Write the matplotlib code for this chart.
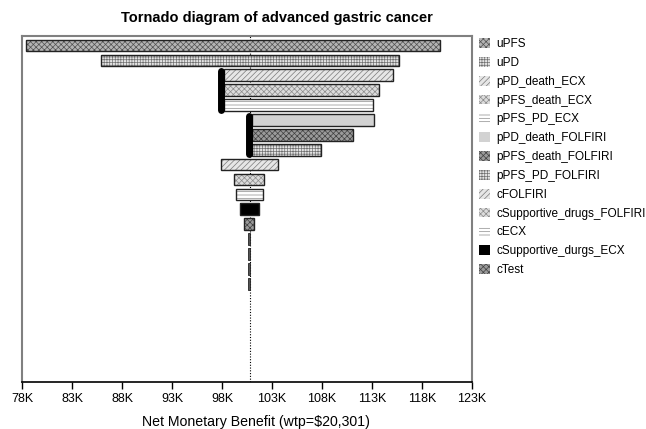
import matplotlib.pyplot as plt
from matplotlib.patches import Patch

plt.rcParams['font.family'] = ['Liberation Sans', 'DejaVu Sans']
plt.rcParams['hatch.linewidth'] = 0.5

# === Data (thousand $) ===
params = ["uPFS", "uPD", "pPD_death_ECX", "pPFS_death_ECX", "pPFS_PD_ECX",
          "pPD_death_FOLFIRI", "pPFS_death_FOLFIRI", "pPFS_PD_FOLFIRI",
          "cFOLFIRI", "cSupportive_drugs_FOLFIRI", "cECX",
          "cSupportive_durgs_ECX", "cTest"]
low = [78.4, 85.9, 98.2, 98.2, 98.2, 100.97, 100.97, 100.97,
       97.93, 99.23, 99.4, 99.8, 100.23]
high = [119.8, 115.7, 115.13, 113.73, 113.13, 113.23, 111.07, 107.87,
        103.57, 102.23, 102.07, 101.7, 101.23]
# tiny bars below the legend entries
extra_low = [100.57, 100.63, 100.63, 100.63]
extra_high = [100.83, 100.8, 100.8, 100.8]
base_value = 100.75
# thick black markers (x, first row, last row)
switch_x = [97.87, 100.73]
switch_rows = [(2, 4), (5, 7)]
ticks = [78, 83, 88, 93, 98, 103, 108, 113, 118, 123]
tick_labels = [f"{t}K" for t in ticks]

# fill style per bar: (face, hatch, hatch colour)
styles = [("#b4b4b4", "xxxxxx", "#505050"),
          ("#e4e4e4", "++++++", "#707070"),
          ("#e6e6e6", "//////", "#7a7a7a"),
          ("#dcdcdc", "xxxxxx", "#8c8c8c"),
          ("#ffffff", "-----", "#8c8c8c"),
          ("#d2d2d2", "", "#d2d2d2"),
          ("#9a9a9a", "xxxxxx", "#404040"),
          ("#e4e4e4", "++++++", "#707070"),
          ("#e6e6e6", "//////", "#7a7a7a"),
          ("#dcdcdc", "xxxxxx", "#8c8c8c"),
          ("#ffffff", "-----", "#8c8c8c"),
          ("#000000", "", "#000000"),
          ("#9a9a9a", "xxxxxx", "#404040")]

fig = plt.figure(figsize=(6.46, 4.29), dpi=100)
ax = fig.add_axes([22 / 646, 1 - 382 / 429, 450 / 646, 346 / 429])

n = len(params)
for i in range(n):
    face, hatch, hc = styles[i]
    w = high[i] - low[i]
    ax.barh(i, w, left=low[i], height=0.78, color=face, hatch=hatch,
            edgecolor=hc, linewidth=0, zorder=2)
    ax.barh(i, w, left=low[i], height=0.78, fill=False,
            edgecolor="#222222", linewidth=1.0, zorder=3)

for j in range(len(extra_low)):
    ax.barh(n + j, extra_high[j] - extra_low[j], left=extra_low[j],
            height=0.78, color="#555555", edgecolor="#222222",
            linewidth=0.6, zorder=3)

for x, (r0, r1) in zip(switch_x, switch_rows):
    ax.plot([x, x], [r0 - 0.3, r1 + 0.3], color="black", lw=5,
            solid_capstyle="round", zorder=4)

ax.axvline(base_value, color="black", linestyle=(0, (1, 1.5)), lw=0.8,
           zorder=1)

ax.set_xlim(78, 123)
ax.set_ylim(22.6, -0.64)
ax.set_xticks(ticks)
ax.set_xticklabels(tick_labels, fontsize=9)
ax.set_yticks([])
ax.tick_params(axis="x", direction="out", length=5, width=1, pad=3)
for s in ["top", "left", "right"]:
    ax.spines[s].set_color("#808080")
    ax.spines[s].set_linewidth(1.5)
ax.spines["bottom"].set_color("black")
ax.spines["bottom"].set_linewidth(1.2)

ax.set_xlabel("Net Monetary Benefit (wtp=$20,301)", fontsize=10.2)
ax.xaxis.set_label_coords(0.519, -0.095)
fig.text(277 / 646, 1 - 18 / 429, "Tornado diagram of advanced gastric cancer",
         ha="center", va="center", fontsize=10.5, fontweight="bold")

# legend
handles = [Patch(facecolor=f, hatch=h, edgecolor=c, linewidth=0)
           for f, h, c in styles]
fig.legend(handles, params, loc="upper left",
           bbox_to_anchor=(479 / 646, 1 - 38 / 429), frameon=False,
           fontsize=8.5, handlelength=0.9, handleheight=0.9,
           handletextpad=0.55, labelspacing=0.58, borderpad=0,
           borderaxespad=0)

fig.savefig("out.png", dpi=100)
